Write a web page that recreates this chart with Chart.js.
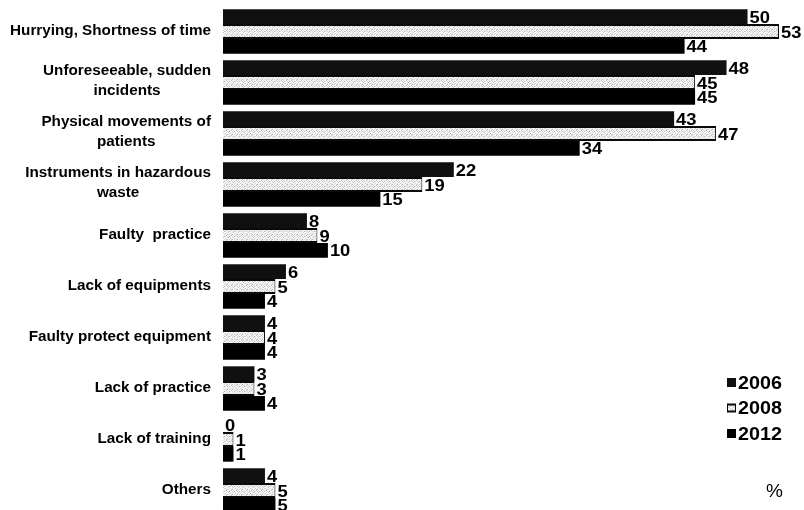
<!DOCTYPE html>
<html>
<head>
<meta charset="utf-8">
<script src="https://cdn.jsdelivr.net/npm/chart.js@4.4.1/dist/chart.umd.min.js"></script>
<style>
  html, body { margin: 0; padding: 0; background: #fff; overflow: hidden; }
  #wrap { width: 804px; height: 516px; position: relative; }
</style>
</head>
<body>
<div id="wrap"><canvas id="c" width="804" height="516"></canvas></div>
<script>
// Causes of needlestick / sharps injuries, share of answers (%)
const categories = [
  ['Hurrying, Shortness of time'],
  ['Unforeseeable, sudden', 'incidents'],
  ['Physical movements of', 'patients'],
  ['Instruments in hazardous', 'waste'],
  ['Faulty  practice'],
  ['Lack of equipments'],
  ['Faulty protect equipment'],
  ['Lack of practice'],
  ['Lack of training'],
  ['Others']
];
const years = ['2006', '2008', '2012'];
const values2006 = [50, 48, 43, 22, 8, 6, 4, 3, 0, 4];
const values2008 = [53, 45, 47, 19, 9, 5, 4, 3, 1, 5];
const values2012 = [44, 45, 34, 15, 10, 4, 4, 4, 1, 5];

// grainy light-grey fill used for the middle series
function grainPattern() {
  const p = document.createElement('canvas');
  p.width = 5; p.height = 5;
  const g = p.getContext('2d');
  const shades = [
    '#f8f8f8', '#bcbcbc', '#ffffff', '#e6e6e6', '#f2f2f2',
    '#e0e0e0', '#ffffff', '#d0d0d0', '#fcfcfc', '#b4b4b4',
    '#ffffff', '#ececec', '#f6f6f6', '#c4c4c4', '#ffffff',
    '#cacaca', '#fafafa', '#e4e4e4', '#ffffff', '#efefef',
    '#ffffff', '#dadada', '#b8b8b8', '#f6f6f6', '#d8d8d8'
  ];
  for (let i = 0; i < 25; i++) {
    g.fillStyle = shades[i];
    g.fillRect(i % 5, Math.floor(i / 5), 1, 1);
  }
  return g.createPattern(p, 'repeat');
}

const ctx = document.getElementById('c').getContext('2d');
const grain = grainPattern();
const FONT = '"Liberation Sans", Arial, sans-serif';

// text drawn a little wider than the font's natural width
function wideText(c, text, x, y, sx) {
  c.save();
  c.translate(x, y);
  c.scale(sx, 1);
  c.fillText(text, 0, 0);
  c.restore();
}

const categoryLabels = {
  id: 'categoryLabels',
  afterDraw(chart) {
    const c = chart.ctx;
    const y = chart.scales.y;
    const sx = 1.09;
    c.save();
    c.fillStyle = '#000';
    c.font = 'bold 14px ' + FONT;
    c.textBaseline = 'middle';
    const right = 211;
    const lh = 20;
    categories.forEach((lines, i) => {
      const cy = y.getPixelForValue(i);
      if (lines.length === 1) {
        c.textAlign = 'right';
        wideText(c, lines[0], right, cy, sx);
      } else {
        const w = Math.max(...lines.map(l => c.measureText(l).width)) * sx;
        const cx = right - w / 2;
        c.textAlign = 'center';
        const top = cy - 1.5 - (lines.length - 1) * lh / 2;
        lines.forEach((l, k) => wideText(c, l, cx, top + k * lh, sx));
      }
    });
    c.restore();
  }
};

const valueLabels = {
  id: 'valueLabels',
  afterDatasetsDraw(chart) {
    const c = chart.ctx;
    c.save();
    c.fillStyle = '#000';
    c.font = 'bold 17px ' + FONT;
    c.textAlign = 'left';
    c.textBaseline = 'middle';
    chart.data.datasets.forEach((ds, di) => {
      const meta = chart.getDatasetMeta(di);
      meta.data.forEach((bar, i) => {
        wideText(c, String(ds.data[i]), bar.x + 2, bar.y + 1.5, 1.08);
      });
    });
    c.restore();
  }
};

const sideLegend = {
  id: 'sideLegend',
  afterDraw(chart) {
    const c = chart.ctx;
    c.save();
    c.font = 'bold 17.5px ' + FONT;
    c.textAlign = 'left';
    c.textBaseline = 'middle';
    const x0 = 727, y0 = 383, step = 25.5;
    chart.data.datasets.forEach((ds, i) => {
      const yy = y0 + i * step;
      c.fillStyle = ds.borderColor;
      c.fillRect(x0, yy - 5, 9, 9);
      if (ds.backgroundColor !== ds.borderColor) {
        c.fillStyle = ds.backgroundColor;
        c.fillRect(x0 + 1, yy - 3, 7, 5);
      }
      c.fillStyle = '#000';
      wideText(c, ds.label, x0 + 11, yy + 1, 1.13);
    });
    c.font = '19px ' + FONT;
    c.fillText('%', 766, 492);
    c.restore();
  }
};

new Chart(ctx, {
  type: 'bar',
  data: {
    labels: categories,
    datasets: [
      { label: years[0], data: values2006, backgroundColor: '#101010', borderColor: '#101010', borderWidth: 0 },
      { label: years[1], data: values2008, backgroundColor: grain, borderColor: '#0a0a0a',
        borderWidth: { top: 2, bottom: 2, right: 1, left: 0 }, borderSkipped: 'start' },
      { label: years[2], data: values2012, backgroundColor: '#000000', borderColor: '#000000', borderWidth: 0 }
    ]
  },
  options: {
    indexAxis: 'y',
    responsive: false,
    animation: false,
    layout: { padding: { left: 223, right: 4, top: 6, bottom: 0 } },
    datasets: { bar: { categoryPercentage: 0.87, barPercentage: 1.0 } },
    scales: {
      x: { display: false, min: 0, max: 55 },
      y: { display: false }
    },
    plugins: {
      legend: { display: false },
      tooltip: { enabled: false }
    }
  },
  plugins: [categoryLabels, valueLabels, sideLegend]
});
</script>
</body>
</html>
